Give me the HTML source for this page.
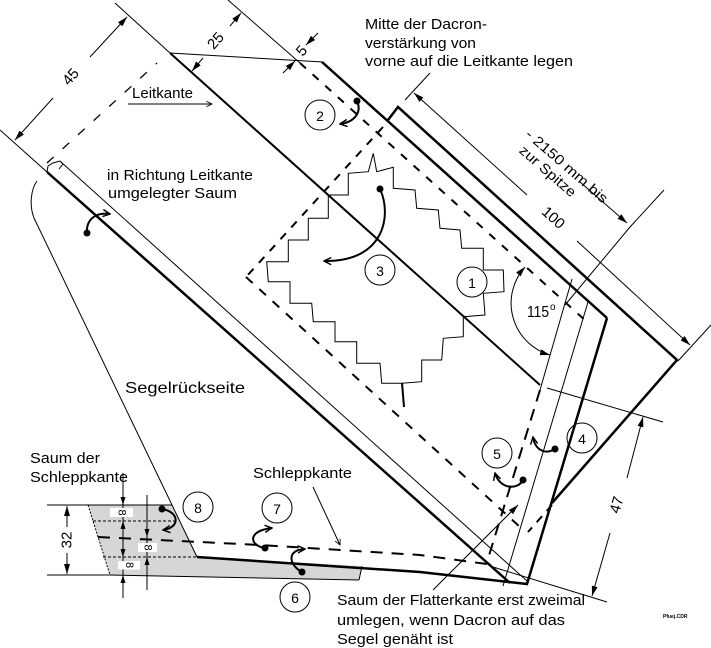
<!DOCTYPE html>
<html><head><meta charset="utf-8"><style>html,body{margin:0;padding:0;background:#fff}svg{display:block}</style></head>
<body>
<svg width="711" height="648" viewBox="0 0 711 648" xmlns="http://www.w3.org/2000/svg" font-family="Liberation Sans, Arial, sans-serif" font-size="15">
<defs>
<marker id="f" viewBox="0 0 10 6" refX="10" refY="3" markerWidth="10" markerHeight="6" markerUnits="userSpaceOnUse" orient="auto-start-reverse"><path d="M0,0L10,3L0,6z" fill="#000"/></marker>
<marker id="o" viewBox="0 0 10 10" refX="9" refY="5" markerWidth="9" markerHeight="9" markerUnits="userSpaceOnUse" orient="auto"><path d="M1,1L9,5L1,9" fill="none" stroke="#000" stroke-width="1.6"/></marker>
<marker id="os" viewBox="0 0 10 10" refX="9" refY="5" markerWidth="7" markerHeight="7" markerUnits="userSpaceOnUse" orient="auto"><path d="M1,1L9,5L1,9" fill="none" stroke="#000" stroke-width="1.2"/></marker>
</defs>
<rect width="711" height="648" fill="#fff"/>

<!-- gray hem area -->
<polygon points="88,505 172,505 197,557 362,566 359,580 110,575" fill="#d6d6d6"/>

<g fill="none" stroke="#000">
<!-- thin lines -->
<g stroke-width="1">
<line x1="0" y1="130" x2="47" y2="172"/>
<line x1="115" y1="3" x2="170" y2="53"/>
<line x1="228" y1="0" x2="300" y2="63"/>
<line x1="170" y1="53" x2="323" y2="62"/>
<path d="M61,162 L527,581"/>
<path d="M47,172 L48,166 L53,163 L60,161 L63,164 L59,169"/>
<path d="M37,181 C31,189 29,205 34,218 L197,557"/>
<line x1="572" y1="279" x2="540" y2="390"/>
<line x1="588" y1="302" x2="503" y2="586"/>
<line x1="405" y1="100" x2="430" y2="73"/>
<path d="M664,190 L630,227 L565,305"/>
<line x1="678" y1="361" x2="711" y2="325"/>
<line x1="547" y1="388" x2="663" y2="422"/>
<line x1="493" y1="567" x2="607" y2="602"/>
<line x1="47" y1="505" x2="172" y2="505"/>
<line x1="47" y1="575" x2="110" y2="575"/>
<line x1="110" y1="575" x2="359" y2="580"/>
<line x1="362" y1="566" x2="359" y2="580"/>
<line x1="88" y1="505" x2="110" y2="575" stroke-dasharray="2,1.5"/>
<line x1="93" y1="521" x2="176" y2="521" stroke-dasharray="3,2"/>
<line x1="103" y1="557" x2="197" y2="557" stroke-dasharray="3,2"/>
<line x1="123" y1="473" x2="123" y2="598"/>
<line x1="147" y1="495" x2="147" y2="590"/>
<!-- zigzag -->
<polygon points="373.3,153.3 376.7,171.7 393.3,167.3 393.3,188.3 415,190 416.7,208.3 438.3,210 440,228.3 460,230 461.7,248.3 483.3,248.3 483.3,270 503.3,270 504,291.7 483.3,293.3 485,315 463.3,316.7 463.3,336.7 443.3,338.3 441.7,360 421.7,360 421.7,381.7 401.7,383.3 381.7,383.3 380,363.3 356.7,363.3 356.7,341.7 335,341.7 335,321.7 313.3,321.7 311.7,303.3 290,303.3 290,281.7 268.3,281.7 266.7,261.7 288.3,261.7 288.3,240 308.3,240 308.3,218.3 328.3,218.3 328.3,195 348.3,195 348.3,173.3 368.3,171.7"/>
<!-- circles -->
<circle cx="472" cy="282" r="15"/>
<circle cx="320" cy="115" r="15"/>
<circle cx="380" cy="270" r="15"/>
<circle cx="582" cy="438" r="15"/>
<circle cx="497" cy="453" r="15"/>
<circle cx="295" cy="597" r="15"/>
<circle cx="277" cy="508" r="15"/>
<circle cx="198" cy="507" r="15"/>
<!-- dimension lines -->
<path d="M53,98 L15,140" marker-end="url(#f)"/>
<path d="M90,57 L127,17" marker-end="url(#f)"/>
<path d="M203,58 L192,71" marker-end="url(#f)"/>
<path d="M230,26 L241,13" marker-end="url(#f)"/>
<path d="M283,73 L295,61" marker-end="url(#f)"/>
<path d="M318,33 L306,45" marker-end="url(#f)"/>
<path d="M527,195 L414,93" marker-end="url(#f)"/>
<path d="M577,241 L690,345" marker-end="url(#f)"/>
<path d="M580,182 L627,223" marker-end="url(#f)"/>
<path d="M627,478 L643,417" marker-end="url(#f)"/>
<path d="M610,533 L592,596" marker-end="url(#f)"/>
<path d="M525,267 A54,54 0 0 0 550,355" marker-start="url(#f)" marker-end="url(#f)"/>
<path d="M433,590 L518,505" marker-end="url(#f)"/>
<path d="M313,487 L340,545" marker-end="url(#os)"/>
<path d="M128,104 L212,104" marker-end="url(#os)"/>
<path d="M67,527 L67,506" marker-end="url(#f)"/>
<path d="M67,553 L67,574" marker-end="url(#f)"/>
</g>

<!-- thick lines -->
<g stroke-width="2.5" stroke-linejoin="miter">
<line x1="47" y1="172" x2="510" y2="583"/>
<line x1="322" y1="62" x2="607" y2="318"/>
<path d="M388,120 L398,107 L677,360 L552,503"/>
<path d="M607,318 L527,584 L420,572 L197,557"/>
</g>
<line x1="170" y1="53" x2="540" y2="385" stroke-width="2"/>
<line x1="402" y1="383" x2="404" y2="407" stroke-width="2"/>

<!-- dashed lines -->
<g stroke-width="2">
<line x1="300" y1="63" x2="587" y2="322" stroke-dasharray="8,9"/>
<line x1="383" y1="127" x2="246" y2="277" stroke-dasharray="8,8"/>
<line x1="246" y1="277" x2="520" y2="527" stroke-dasharray="9,9"/>
<line x1="540" y1="390" x2="487" y2="562" stroke-dasharray="12,8"/>
<line x1="552" y1="505" x2="528" y2="532" stroke-dasharray="8,7"/>
<path d="M98,537 L260,545 L420,555 L494,565" stroke-dasharray="12,9"/>
</g>
<line x1="47" y1="163" x2="157" y2="63" stroke-width="1.3" stroke-dasharray="9,12"/>

<!-- fold arrows -->
<g stroke-width="2">
<path d="M357,101 C362,112 355,122 340,124" marker-end="url(#o)"/>
<path d="M380,189 C392,215 385,262 324,261" marker-end="url(#o)"/>
<path d="M87,233 C86,220 95,212 110,214" marker-end="url(#o)"/>
<path d="M555,449 C545,455 535,450 533,437" marker-end="url(#o)"/>
<path d="M523,480 C518,490 500,490 495,473" marker-end="url(#o)"/>
<path d="M265,548 C250,546 246,531 272,528" marker-end="url(#o)"/>
<path d="M302,572 C290,566 285,550 305,549" marker-end="url(#o)"/>
<path d="M162,509 C180,512 180,528 163,530" marker-end="url(#o)"/>
</g>
</g>

<!-- dots -->
<g fill="#000">
<circle cx="357" cy="101" r="3.5"/>
<circle cx="380" cy="189" r="3.5"/>
<circle cx="87" cy="233" r="3.5"/>
<circle cx="555" cy="449" r="3.5"/>
<circle cx="523" cy="480" r="3.5"/>
<circle cx="265" cy="548" r="3.5"/>
<circle cx="302" cy="572" r="3.5"/>
<circle cx="162" cy="509" r="3.5"/>
<polygon points="120.5,497 125.5,497 123,505"/>
<polygon points="120.5,529 125.5,529 123,521"/>
<polygon points="120.5,549 125.5,549 123,557"/>
<polygon points="120.5,583 125.5,583 123,575"/>
<polygon points="144.5,529 149.5,529 147,537"/>
<polygon points="144.5,565 149.5,565 147,557"/>
</g>

<!-- 8 boxes -->
<rect x="110" y="508" width="23" height="9" fill="#fff"/>
<rect x="138" y="543" width="19" height="9" fill="#fff"/>
<rect x="118" y="561" width="22" height="8.5" fill="#fff"/>
<g font-size="11" text-anchor="middle" dominant-baseline="central">
<text transform="translate(121.5,512.5) rotate(90)">8</text>
<text transform="translate(147.5,547.5) rotate(90)">8</text>
<text transform="translate(129,565) rotate(90)">8</text>
</g>

<!-- labels -->
<g fill="#000">
<text x="365" y="29" textLength="122" lengthAdjust="spacingAndGlyphs">Mitte der Dacron-</text>
<text x="365" y="48" textLength="111" lengthAdjust="spacingAndGlyphs">verstärkung von</text>
<text x="365" y="66" textLength="208" lengthAdjust="spacingAndGlyphs">vorne auf die Leitkante legen</text>
<text x="132" y="98" textLength="61" lengthAdjust="spacingAndGlyphs">Leitkante</text>
<text x="107" y="180" textLength="146" lengthAdjust="spacingAndGlyphs">in Richtung Leitkante</text>
<text x="108" y="198" textLength="129" lengthAdjust="spacingAndGlyphs">umgelegter Saum</text>
<text x="125" y="393" font-size="16" textLength="120" lengthAdjust="spacingAndGlyphs">Segelrückseite</text>
<text x="30" y="463" textLength="70" lengthAdjust="spacingAndGlyphs">Saum der</text>
<text x="30" y="482" textLength="98" lengthAdjust="spacingAndGlyphs">Schleppkante</text>
<text x="253" y="478" textLength="99" lengthAdjust="spacingAndGlyphs">Schleppkante</text>
<text x="337" y="605" textLength="248" lengthAdjust="spacingAndGlyphs">Saum der Flatterkante erst zweimal</text>
<text x="337" y="625" textLength="228" lengthAdjust="spacingAndGlyphs">umlegen, wenn Dacron auf das</text>
<text x="337" y="644" textLength="116" lengthAdjust="spacingAndGlyphs">Segel genäht ist</text>
<text x="527" y="317" font-size="16" textLength="22" lengthAdjust="spacingAndGlyphs">115</text>
<text x="550" y="310" font-size="10">o</text>
<text x="663" y="618" font-size="5" font-weight="bold">Pfuej.CDR</text>
</g>
<g text-anchor="middle" dominant-baseline="central">
<text transform="translate(71,77) rotate(-49)">45</text>
<text transform="translate(216,41) rotate(-49)">25</text>
<text transform="translate(302,51) rotate(-49)">5</text>
<text transform="translate(553,218) rotate(42)">100</text>
<text transform="translate(617,505) rotate(-74)">47</text>
<text transform="translate(67,540) rotate(-90)">32</text>
<text transform="translate(567,166) rotate(41)" font-size="14" textLength="104" lengthAdjust="spacingAndGlyphs">- 2150 mm bis</text>
<text transform="translate(548,171) rotate(41)" font-size="14" textLength="70" lengthAdjust="spacingAndGlyphs">zur Spitze</text>
<text x="472" y="283" font-size="14">1</text>
<text x="320" y="116" font-size="14">2</text>
<text x="380" y="271" font-size="14">3</text>
<text x="582" y="439" font-size="14">4</text>
<text x="497" y="454" font-size="14">5</text>
<text x="295" y="598" font-size="14">6</text>
<text x="277" y="509" font-size="14">7</text>
<text x="198" y="508" font-size="14">8</text>
</g>
</svg>
</body></html>
